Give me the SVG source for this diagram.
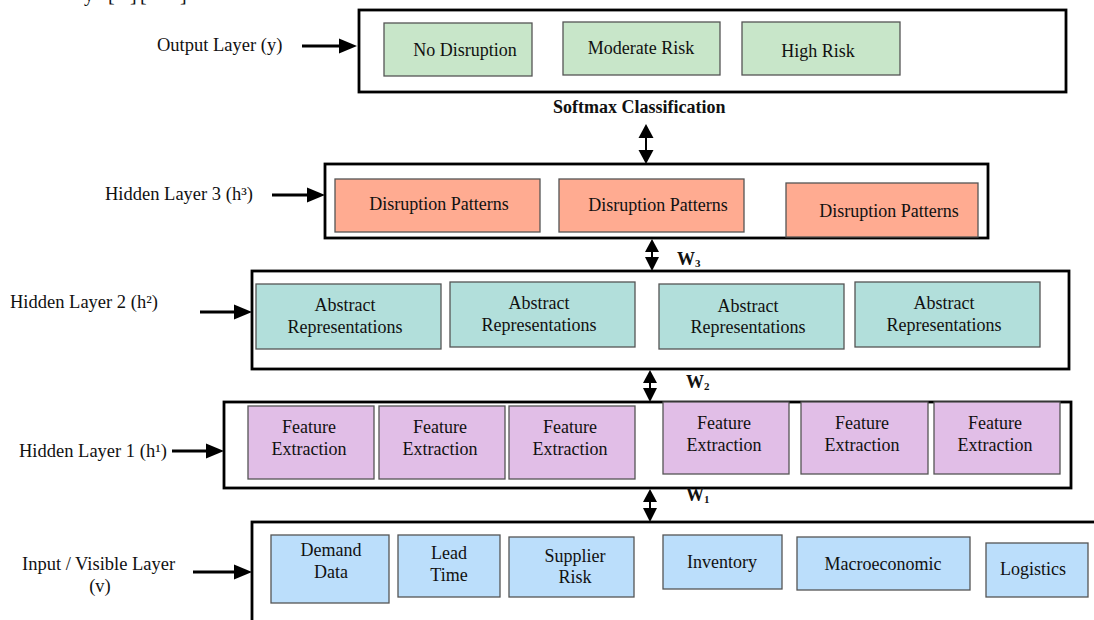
<svg xmlns="http://www.w3.org/2000/svg" width="1094" height="620" viewBox="0 0 1094 620">
<style>
text{font-family:"Liberation Serif","Times New Roman",serif;font-size:18px;fill:#111}
.lbl{font-size:18.5px}
.c{text-anchor:middle}
.b{font-weight:bold}
.outer{fill:none;stroke:#000;stroke-width:2.8}
.bx{stroke:#555;stroke-width:1.3}
.g{fill:#C8E6C9}.s{fill:#FFAB91}.t{fill:#B2DFDB}.p{fill:#E1BEE7}.u{fill:#BBDEFB}
.sh{stroke:#000;stroke-width:3;fill:none}
.ds{stroke:#000;stroke-width:2;fill:none}
.hd{fill:#000}
</style>
<rect width="1094" height="620" fill="#fff"/>
<text style="font-size:20px" y="0.5"><tspan x="84">y</tspan><tspan x="108">[</tspan><tspan x="130">]</tspan><tspan x="140">[</tspan><tspan x="180">]</tspan></text>

<g id="output-layer">
<rect class="outer" x="359" y="10" width="707" height="82"/>
<rect class="bx g" x="384" y="23" width="148" height="53"/>
<text class="c" x="465" y="56">No Disruption</text>
<rect class="bx g" x="563" y="22" width="157" height="53"/>
<text class="c" x="641" y="54">Moderate Risk</text>
<rect class="bx g" x="742" y="22" width="158" height="53"/>
<text class="c" x="818" y="57">High Risk</text>
<text class="b" x="553" y="113" style="font-size:18px">Softmax Classification</text>
</g>

<g id="hidden-layer-3">
<rect class="outer" x="325" y="164" width="663" height="74"/>
<rect class="bx s" x="335" y="179" width="205" height="53"/>
<text class="c" x="439" y="210">Disruption Patterns</text>
<rect class="bx s" x="559" y="179" width="185" height="53"/>
<text class="c" x="658" y="211">Disruption Patterns</text>
<rect class="bx s" x="786" y="183" width="192" height="54"/>
<text class="c" x="889" y="217">Disruption Patterns</text>
</g>

<g id="hidden-layer-2">
<rect class="outer" x="252" y="271" width="817" height="98"/>
<rect class="bx t" x="256" y="284" width="185" height="65"/>
<text class="c" x="345" y="311">Abstract</text><text class="c" x="345" y="333">Representations</text>
<rect class="bx t" x="450" y="282" width="185" height="65"/>
<text class="c" x="539" y="309">Abstract</text><text class="c" x="539" y="331">Representations</text>
<rect class="bx t" x="659" y="284" width="185" height="65"/>
<text class="c" x="748" y="312">Abstract</text><text class="c" x="748" y="333">Representations</text>
<rect class="bx t" x="855" y="282" width="185" height="65"/>
<text class="c" x="944" y="309">Abstract</text><text class="c" x="944" y="331">Representations</text>
</g>

<g id="hidden-layer-1">
<rect class="outer" x="224" y="402" width="847" height="86"/>
<rect class="bx p" x="248" y="406" width="126" height="73"/>
<text class="c" x="309" y="433">Feature</text><text class="c" x="309" y="455">Extraction</text>
<rect class="bx p" x="379" y="406" width="126" height="73"/>
<text class="c" x="440" y="433">Feature</text><text class="c" x="440" y="455">Extraction</text>
<rect class="bx p" x="509" y="406" width="126" height="73"/>
<text class="c" x="570" y="433">Feature</text><text class="c" x="570" y="455">Extraction</text>
<rect class="bx p" x="663" y="402" width="126" height="72"/>
<text class="c" x="724" y="429">Feature</text><text class="c" x="724" y="451">Extraction</text>
<rect class="bx p" x="801" y="402" width="127" height="72"/>
<text class="c" x="862" y="429">Feature</text><text class="c" x="862" y="451">Extraction</text>
<rect class="bx p" x="934" y="402" width="126" height="72"/>
<text class="c" x="995" y="429">Feature</text><text class="c" x="995" y="451">Extraction</text>
</g>

<g id="input-layer">
<rect class="outer" x="252" y="522" width="900" height="200"/>
<rect class="bx u" x="271" y="535" width="118" height="68"/>
<text class="c" x="331" y="556">Demand</text><text class="c" x="331" y="578">Data</text>
<rect class="bx u" x="398" y="535" width="102" height="62"/>
<text class="c" x="449" y="559">Lead</text><text class="c" x="449" y="581">Time</text>
<rect class="bx u" x="509" y="537" width="125" height="60"/>
<text class="c" x="575" y="562">Supplier</text><text class="c" x="575" y="583">Risk</text>
<rect class="bx u" x="663" y="535" width="119" height="54"/>
<text class="c" x="722" y="568">Inventory</text>
<rect class="bx u" x="797" y="537" width="173" height="53"/>
<text class="c" x="883" y="570">Macroeconomic</text>
<rect class="bx u" x="986" y="543" width="102" height="54"/>
<text class="c" x="1033" y="575">Logistics</text>
</g>

<g id="layer-labels">
<text class="lbl" x="157" y="51">Output Layer (y)</text>
<text class="lbl" x="105" y="200">Hidden Layer 3 (h³)</text>
<text class="lbl" x="10" y="308">Hidden Layer 2 (h²)</text>
<text class="lbl" x="19" y="457">Hidden Layer 1 (h¹)</text>
<text class="lbl" x="22" y="570">Input / Visible Layer</text>
<text class="lbl c" x="100" y="592">(v)</text>
<text class="b" x="677" y="265">W<tspan style="font-size:11px" dy="2">3</tspan></text>
<text class="b" x="686" y="388">W<tspan style="font-size:11px" dy="2">2</tspan></text>
<text class="b" x="686" y="501">W<tspan style="font-size:11px" dy="2">1</tspan></text>
</g>

<g id="connectors">
<line class="sh" x1="302" y1="46" x2="341" y2="46"/><polygon class="hd" points="357,46 339,38.5 339,53.5"/>
<line class="sh" x1="272" y1="195" x2="309" y2="195"/><polygon class="hd" points="325,195 307,187.5 307,202.5"/>
<line class="sh" x1="200" y1="312" x2="236" y2="312"/><polygon class="hd" points="252,312 234,304.5 234,319.5"/>
<line class="sh" x1="172" y1="451" x2="208" y2="451"/><polygon class="hd" points="224,451 206,443.5 206,458.5"/>
<line class="sh" x1="193" y1="572" x2="236" y2="572"/><polygon class="hd" points="252,572 234,564.5 234,579.5"/>

<line class="ds" x1="646" y1="136" x2="646" y2="152"/>
<polygon class="hd" points="646,124 638.5,138 653.5,138"/><polygon class="hd" points="646,164 638.5,150 653.5,150"/>
<line class="ds" x1="652" y1="249" x2="652" y2="260"/>
<polygon class="hd" points="652,239 645,252 659,252"/><polygon class="hd" points="652,271 645,257 659,257"/>
<line class="ds" x1="650" y1="380" x2="650" y2="391"/>
<polygon class="hd" points="650,370 643,383 657,383"/><polygon class="hd" points="650,402 643,388 657,388"/>
<line class="ds" x1="650" y1="499" x2="650" y2="511"/>
<polygon class="hd" points="650,489 643,502 657,502"/><polygon class="hd" points="650,522 643,508 657,508"/>
</g>
</svg>
